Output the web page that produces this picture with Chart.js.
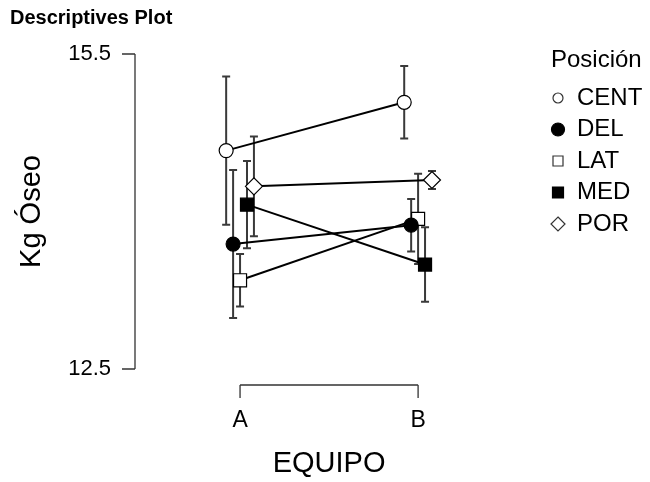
<!DOCTYPE html>
<html>
<head>
<meta charset="utf-8">
<script src="https://cdn.jsdelivr.net/npm/chart.js@4.4.0/dist/chart.umd.min.js"></script>
<style>
  body { margin: 0; background: #fff; }
</style>
</head>
<body>
<canvas id="plot" width="650" height="482"></canvas>
<script>
'use strict';

// *** Data ***

let categories = ['A', 'B'];
let positions = ['CENT', 'DEL', 'LAT', 'MED', 'POR'];

let centMeans = [14.58, 15.04];
let delMeans = [13.69, 13.87];
let latMeans = [13.345, 13.93];
let medMeans = [14.065, 13.495];
let porMeans = [14.24, 14.30];

let centErr = [0.705, 0.345];
let delErr = [0.705, 0.25];
let latErr = [0.25, 0.43];
let medErr = [0.415, 0.355];
let porErr = [0.475, 0.085];

let yTicks = [12.5, 15.5];

// *** Styles ***

let font = '"Liberation Sans", Arial, sans-serif';
let dodge = 0.039;
let markerStyles = [
  { style: 'circle', fill: '#fff', r: 7 },
  { style: 'circle', fill: '#000', r: 7 },
  { style: 'rect', fill: '#fff', r: 9.2 },
  { style: 'rect', fill: '#000', r: 9.2 },
  { style: 'rectRot', fill: '#fff', r: 8.5 }
];

let allMeans = [centMeans, delMeans, latMeans, medMeans, porMeans];
let allErr = [centErr, delErr, latErr, medErr, porErr];

function buildDatasets() {
  let sets = [];
  for (let i = 0; i < positions.length; i++) {
    let off = (i - 2) * dodge;
    let pts = [];
    for (let j = 0; j < categories.length; j++) {
      pts.push({ x: j + 1 + off, y: allMeans[i][j], err: allErr[i][j] });
    }
    sets.push({
      label: positions[i],
      data: pts,
      borderColor: '#000',
      borderWidth: 2,
      pointStyle: markerStyles[i].style,
      pointRadius: markerStyles[i].r,
      pointHoverRadius: markerStyles[i].r,
      pointBackgroundColor: markerStyles[i].fill,
      pointBorderColor: '#000',
      pointBorderWidth: 1.2,
      tension: 0
    });
  }
  return sets;
}

// error bars go under the points
let errorBars = {
  id: 'errorBars',
  beforeDatasetsDraw(chart) {
    let c = chart.ctx;
    let xs = chart.scales.x;
    let ys = chart.scales.y;
    c.save();
    c.strokeStyle = '#3a3a3a';
    c.lineWidth = 2;
    chart.data.datasets.forEach(ds => {
      ds.data.forEach(p => {
        let px = xs.getPixelForValue(p.x);
        let top = ys.getPixelForValue(p.y + p.err);
        let bot = ys.getPixelForValue(p.y - p.err);
        c.beginPath();
        c.moveTo(px, top); c.lineTo(px, bot);
        c.moveTo(px - 4, top); c.lineTo(px + 4, top);
        c.moveTo(px - 4, bot); c.lineTo(px + 4, bot);
        c.stroke();
      });
    });
    c.restore();
  }
};

// axes, titles and legend drawn in the jasp style
let decorations = {
  id: 'decorations',
  afterDraw(chart) {
    let c = chart.ctx;
    let xs = chart.scales.x;
    let ys = chart.scales.y;
    let area = chart.chartArea;
    c.save();
    c.fillStyle = '#000';
    c.strokeStyle = '#333';
    c.lineWidth = 1.3;

    // title
    c.font = 'bold 20px ' + font;
    c.textAlign = 'left';
    c.textBaseline = 'middle';
    c.fillText('Descriptives Plot', 10, 18);

    // y axis
    let axX = area.left;
    let yTop = ys.getPixelForValue(yTicks[yTicks.length - 1]);
    let yBot = ys.getPixelForValue(yTicks[0]);
    c.beginPath();
    c.moveTo(axX, yTop); c.lineTo(axX, yBot);
    yTicks.forEach(t => {
      let py = ys.getPixelForValue(t);
      c.moveTo(axX - 13, py); c.lineTo(axX, py);
    });
    c.stroke();
    c.font = '22px ' + font;
    c.textAlign = 'right';
    yTicks.forEach(t => {
      c.fillText(t.toFixed(1), axX - 24, ys.getPixelForValue(t));
    });

    // x axis bracket
    let axY = area.bottom + 16;
    let xa = xs.getPixelForValue(1);
    let xb = xs.getPixelForValue(categories.length);
    c.beginPath();
    c.moveTo(xa, axY); c.lineTo(xb, axY);
    categories.forEach((cat, j) => {
      let px = xs.getPixelForValue(j + 1);
      c.moveTo(px, axY); c.lineTo(px, axY + 13);
    });
    c.stroke();
    c.font = '23px ' + font;
    c.textAlign = 'center';
    categories.forEach((cat, j) => {
      c.fillText(cat, xs.getPixelForValue(j + 1), axY + 36);
    });

    // axis titles
    c.font = '29px ' + font;
    c.fillText('EQUIPO', (xa + xb) / 2, 464);
    c.save();
    c.translate(32, (yTop + yBot) / 2);
    c.rotate(-Math.PI / 2);
    c.fillText('Kg Óseo', 0, 0);
    c.restore();

    // legend
    c.textAlign = 'left';
    c.font = '24px ' + font;
    c.fillText('Posición', 551, 60);
    c.lineWidth = 1.2;
    c.strokeStyle = '#000';
    positions.forEach((name, i) => {
      let ly = 98 + i * 31.5;
      let m = markerStyles[i];
      c.fillStyle = m.fill;
      c.strokeStyle = m.fill === '#fff' ? '#333' : '#000';
      c.beginPath();
      if (m.style === 'circle') {
        c.arc(558, ly, m.fill === '#fff' ? 5 : 6.5, 0, Math.PI * 2);
      } else if (m.style === 'rect') {
        let h = m.fill === '#fff' ? 5 : 5.5;
        c.rect(558 - h, ly - h, 2 * h, 2 * h);
      } else {
        c.moveTo(558, ly - 7); c.lineTo(565, ly); c.lineTo(558, ly + 7); c.lineTo(551, ly);
        c.closePath();
      }
      c.fill();
      c.stroke();
      c.fillStyle = '#000';
      c.fillText(name, 577, ly);
    });
    c.restore();
  }
};

let ctx = document.getElementById('plot');

new Chart(ctx, {
  type: 'line',
  data: { datasets: buildDatasets() },
  options: {
    responsive: false,
    animation: false,
    clip: false,
    layout: { padding: { left: 135, right: 150, top: 54, bottom: 113 } },
    plugins: {
      legend: { display: false },
      title: { display: false },
      tooltip: { enabled: false }
    },
    scales: {
      x: { type: 'linear', min: 0.41, max: 2.46, display: false },
      y: { type: 'linear', min: 12.5, max: 15.5, display: false }
    }
  },
  plugins: [errorBars, decorations]
});
</script>
</body>
</html>
